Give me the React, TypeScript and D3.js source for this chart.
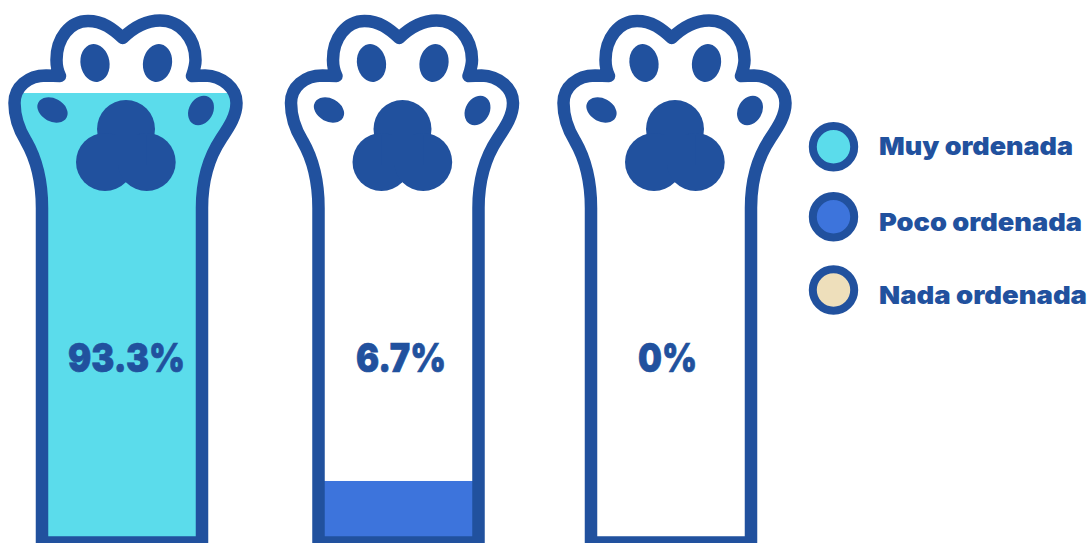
import React from "react";
import * as d3 from "d3";

const categories = ["Muy ordenada", "Poco ordenada", "Nada ordenada"];
const values = [93.3, 6.7, 0];
const valueLabels = ["93.3%", "6.7%", "0%"];
const colors = ["#5BDCEB", "#3D74DC", "#EEDFBB"];
const INK = "#21519E";
const FONT = "Inter, 'Open Sans', sans-serif";

// Paw silhouette (decorative outline), local coordinates
const PAW =
  "M42,542.5 L42,208 C42,182 37,160 26,141 C18,128 14.5,115 14.5,103 C14.5,87 28,75.5 46,75.5 L60,76 " +
  "C57,70 56.5,66 56.5,60 C56.5,38 70,21 88,21 C103,21 113,29 122.7,38 C132,29 145,20.5 160,20.5 " +
  "C180,20.5 195.5,38 195.5,60 C195.5,66 194,70 192,76 L205,75.5 C222,76 236.5,88 236.5,103 " +
  "C236.5,116 229,127 221,139 C209,157 202,182 202,208 L202,542.5 Z";

const W = 1091;
const H = 543;

const pawX = d3.scaleOrdinal<string, number>().domain(categories).range([0, 276.5, 549]);
const y = d3.scaleLinear().domain([0, 100]).range([511, 63]);
const legendY = d3.scaleOrdinal<string, number>().domain(categories).range([146.7, 216.7, 290]);
const legendTextY = d3.scaleOrdinal<string, number>().domain(categories).range([155, 231, 304]);
const FLOOR = 543;

function Pads() {
  return (
    <g fill={INK}>
      <ellipse cx={95} cy={63} rx={14.5} ry={19} transform="rotate(-10 95 63)" />
      <ellipse cx={157.5} cy={63} rx={14.5} ry={19} transform="rotate(10 157.5 63)" />
      <ellipse cx={52.5} cy={110} rx={16} ry={11.5} transform="rotate(28 52.5 110)" />
      <ellipse cx={201} cy={110.5} rx={15.5} ry={12} transform="rotate(-60 201 110.5)" />
      <circle cx={126} cy={129} r={29} />
      <circle cx={105} cy={162} r={29} />
      <circle cx={146.7} cy={162} r={29} />
      <rect x={105} y={135} width={41.7} height={30} />
    </g>
  );
}

export default function App() {
  return (
    <svg
      width={W}
      height={H}
      viewBox={`0 0 ${W} ${H}`}
      style={{ position: "absolute", left: 0, top: 0, background: "#fff" }}
    >
      <defs>
        <clipPath id="paw-clip">
          <path d={PAW} />
        </clipPath>
      </defs>
      {categories.map((c, i) => (
        <g key={c} transform={`translate(${pawX(c)},0)`}>
          <g clipPath="url(#paw-clip)">
            {values[i] > 0 && (
              <rect
                x={0}
                y={y(values[i])}
                width={250}
                height={FLOOR - y(values[i])}
                fill={colors[i]}
              />
            )}
          </g>
          <path d={PAW} fill="none" stroke={INK} strokeWidth={12.5} strokeLinejoin="round" />
          <Pads />
        </g>
      ))}
      {categories.map((c, i) => (
        <text
          key={c}
          x={[126.5, 401, 667.5][i]}
          y={372}
          textAnchor="middle"
          fontFamily={FONT}
          fontWeight={900}
          fontSize={40}
          textLength={[117, 90, 59][i]}
          lengthAdjust="spacingAndGlyphs"
          fill={INK}
          stroke={INK}
          strokeWidth={0.7}
        >
          {valueLabels[i]}
        </text>
      ))}
      {categories.map((c, i) => (
        <g key={c}>
          <circle cx={833.5} cy={legendY(c)} r={20.7} fill={colors[i]} stroke={INK} strokeWidth={8} />
          <text
            x={879}
            y={legendTextY(c)}
            fontFamily={FONT}
            fontWeight={900}
            fontSize={25}
            textLength={[194, 203, 208][i]}
            lengthAdjust="spacingAndGlyphs"
            fill={INK}
          >
            {c}
          </text>
        </g>
      ))}
    </svg>
  );
}
